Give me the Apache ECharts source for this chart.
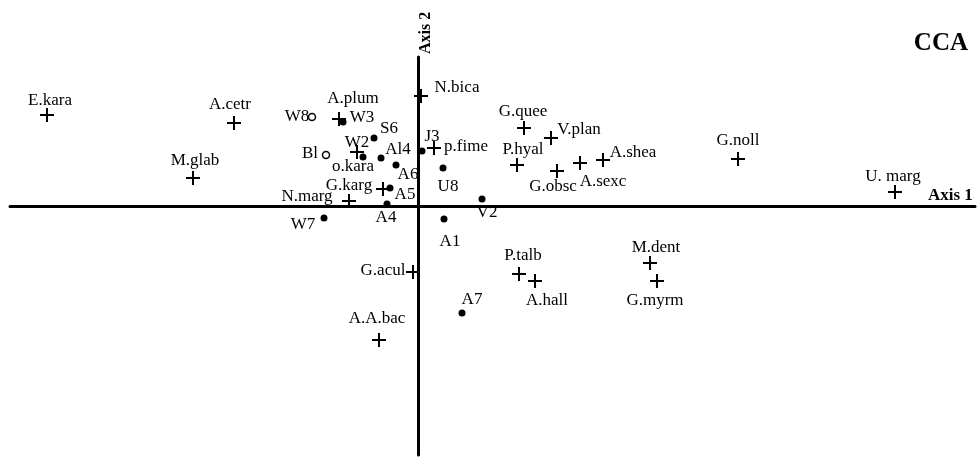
<!DOCTYPE html>
<html>
<head>
<meta charset="utf-8">
<script src="https://cdn.jsdelivr.net/npm/echarts@6/dist/echarts.min.js"></script>
<style>html,body{margin:0;padding:0;background:#fff}#c{width:978px;height:460px}</style>
</head>
<body>
<div id="c"></div>
<script>
// ---- Data (CCA scores) ----
const speciesNames = ['E.kara','A.cetr','M.glab','A.plum','N.bica','o.kara','G.karg','N.marg','p.fime','G.quee','V.plan','P.hyal','G.obsc','A.sexc','A.shea','G.noll','U. marg','G.acul','A.A.bac','P.talb','A.hall','M.dent','G.myrm'];
const speciesAxis1 = [-3.71,-1.84,-2.25,-0.79,0.03,-0.61,-0.35,-0.69,0.16,1.06,1.33,0.99,1.39,1.62,1.85,3.20,4.77,-0.05,-0.39,1.01,1.17,2.32,2.39];
const speciesAxis2 = [0.91,0.83,0.28,0.87,1.10,0.54,0.17,0.05,0.58,0.78,0.68,0.41,0.35,0.43,0.46,0.47,0.14,-0.66,-1.34,-0.68,-0.75,-0.57,-0.75];

const siteNames = ['W3','S6','W2','Al4','A6','J3','U8','A5','A4','W7','A1','V2','A7'];
const siteAxis1 = [-0.75,-0.44,-0.55,-0.37,-0.22,0.04,0.25,-0.28,-0.31,-0.94,0.26,0.64,0.44];
const siteAxis2 = [0.84,0.68,0.49,0.48,0.41,0.55,0.38,0.18,0.02,-0.12,-0.13,0.07,-1.07];

const openSiteNames = ['W8','Bl'];
const openSiteAxis1 = [-1.06,-0.92];
const openSiteAxis2 = [0.89,0.51];

const envNames = ['OM'];
const envAxis1 = [0.64];
const envAxis2 = [0.07];

// ---- Label placement (style, pixel offsets from the mark) ----
const labelOffsets = {
  'E.kara':[3,-14],'A.cetr':[-4,-18],'M.glab':[2,-17],'A.plum':[14,-20],'N.bica':[36,-8],
  'o.kara':[-4,15],'G.karg':[-34,-3],'N.marg':[-42,-4],'p.fime':[32,-1],'G.quee':[-1,-16],
  'V.plan':[28,-8],'P.hyal':[6,-15],'G.obsc':[-4,16],'A.sexc':[23,19],'A.shea':[30,-7],
  'G.noll':[0,-18],'U. marg':[-2,-15],'G.acul':[-30,-1],'A.A.bac':[-2,-21],'P.talb':[4,-18],
  'A.hall':[12,20],'M.dent':[6,-15],'G.myrm':[-2,20],
  'W3':[19,-4],'S6':[15,-9],'W2':[-6,-14],'Al4':[17,-8],'A6':[12,10],'J3':[10,-14],
  'U8':[5,19],'A5':[15,7],'A4':[-1,14],'W7':[-21,7],'A1':[6,23],'V2':[5,14],'A7':[10,-13],
  'W8':[-15,0],'Bl':[-16,-1],'OM':[3,-12]
};

const FONT = 'Liberation Serif';
function build(names, xs, ys, fontSize) {
  return names.map((n, i) => ({
    name: n,
    value: [xs[i], ys[i]],
    label: {
      show: true, formatter: n, position: 'inside',
      offset: labelOffsets[n] || [0, -14],
      color: '#000', opacity: 1, fontFamily: FONT, fontSize: fontSize || 17,
      textBorderWidth: 0, align: 'center', verticalAlign: 'middle'
    }
  }));
}

const chart = echarts.init(document.getElementById('c'), null, {renderer: 'canvas'});
const hidden = {show: false};
chart.setOption({
  animation: false,
  backgroundColor: '#fff',
  title: {
    text: 'CCA', right: 5, top: 26,
    textStyle: {fontFamily: FONT, fontWeight: 'bold', fontSize: 25, color: '#000'}
  },
  grid: {left: 10, right: 3, top: 57, bottom: 5, containLabel: false},
  xAxis: {
    type: 'value', min: -4.08, max: 5.57,
    axisLine: {show: true, onZero: true, lineStyle: {color: '#000', width: 3}},
    axisTick: hidden, axisLabel: hidden, splitLine: hidden,
    name: 'Axis 1', nameLocation: 'end', nameGap: -47,
    nameTextStyle: {fontFamily: FONT, fontWeight: 'bold', fontSize: 17, color: '#000', verticalAlign: 'bottom', padding: [0, 0, 2, 0]}
  },
  yAxis: {
    type: 'value', min: -2.49, max: 1.49,
    axisLine: {show: true, onZero: true, lineStyle: {color: '#000', width: 3}},
    axisTick: hidden, axisLabel: hidden, splitLine: hidden,
    name: 'Axis 2', nameLocation: 'end', nameGap: 3, nameRotate: 90,
    nameTextStyle: {fontFamily: FONT, fontWeight: 'bold', fontSize: 16, color: '#000', verticalAlign: 'top'}
  },
  series: [
    {
      name: 'Species', type: 'scatter',
      symbol: 'path://M6 0H8V6H14V8H8V14H6V8H0V6H6Z', symbolSize: 14,
      itemStyle: {color: '#000', opacity: 1},
      data: build(speciesNames, speciesAxis1, speciesAxis2)
    },
    {
      name: 'Sites', type: 'scatter', symbol: 'circle', symbolSize: 7,
      itemStyle: {color: '#000', opacity: 1},
      data: build(siteNames, siteAxis1, siteAxis2)
    },
    {
      name: 'Sites (open)', type: 'scatter', symbol: 'circle', symbolSize: 7,
      itemStyle: {color: '#fff', borderColor: '#000', borderWidth: 1.5, opacity: 1},
      data: build(openSiteNames, openSiteAxis1, openSiteAxis2)
    },
    {
      name: 'Environment', type: 'scatter', symbol: 'none', symbolSize: 0,
      itemStyle: {opacity: 1},
      data: build(envNames, envAxis1, envAxis2, 19)
    }
  ]
});
</script>
</body>
</html>
